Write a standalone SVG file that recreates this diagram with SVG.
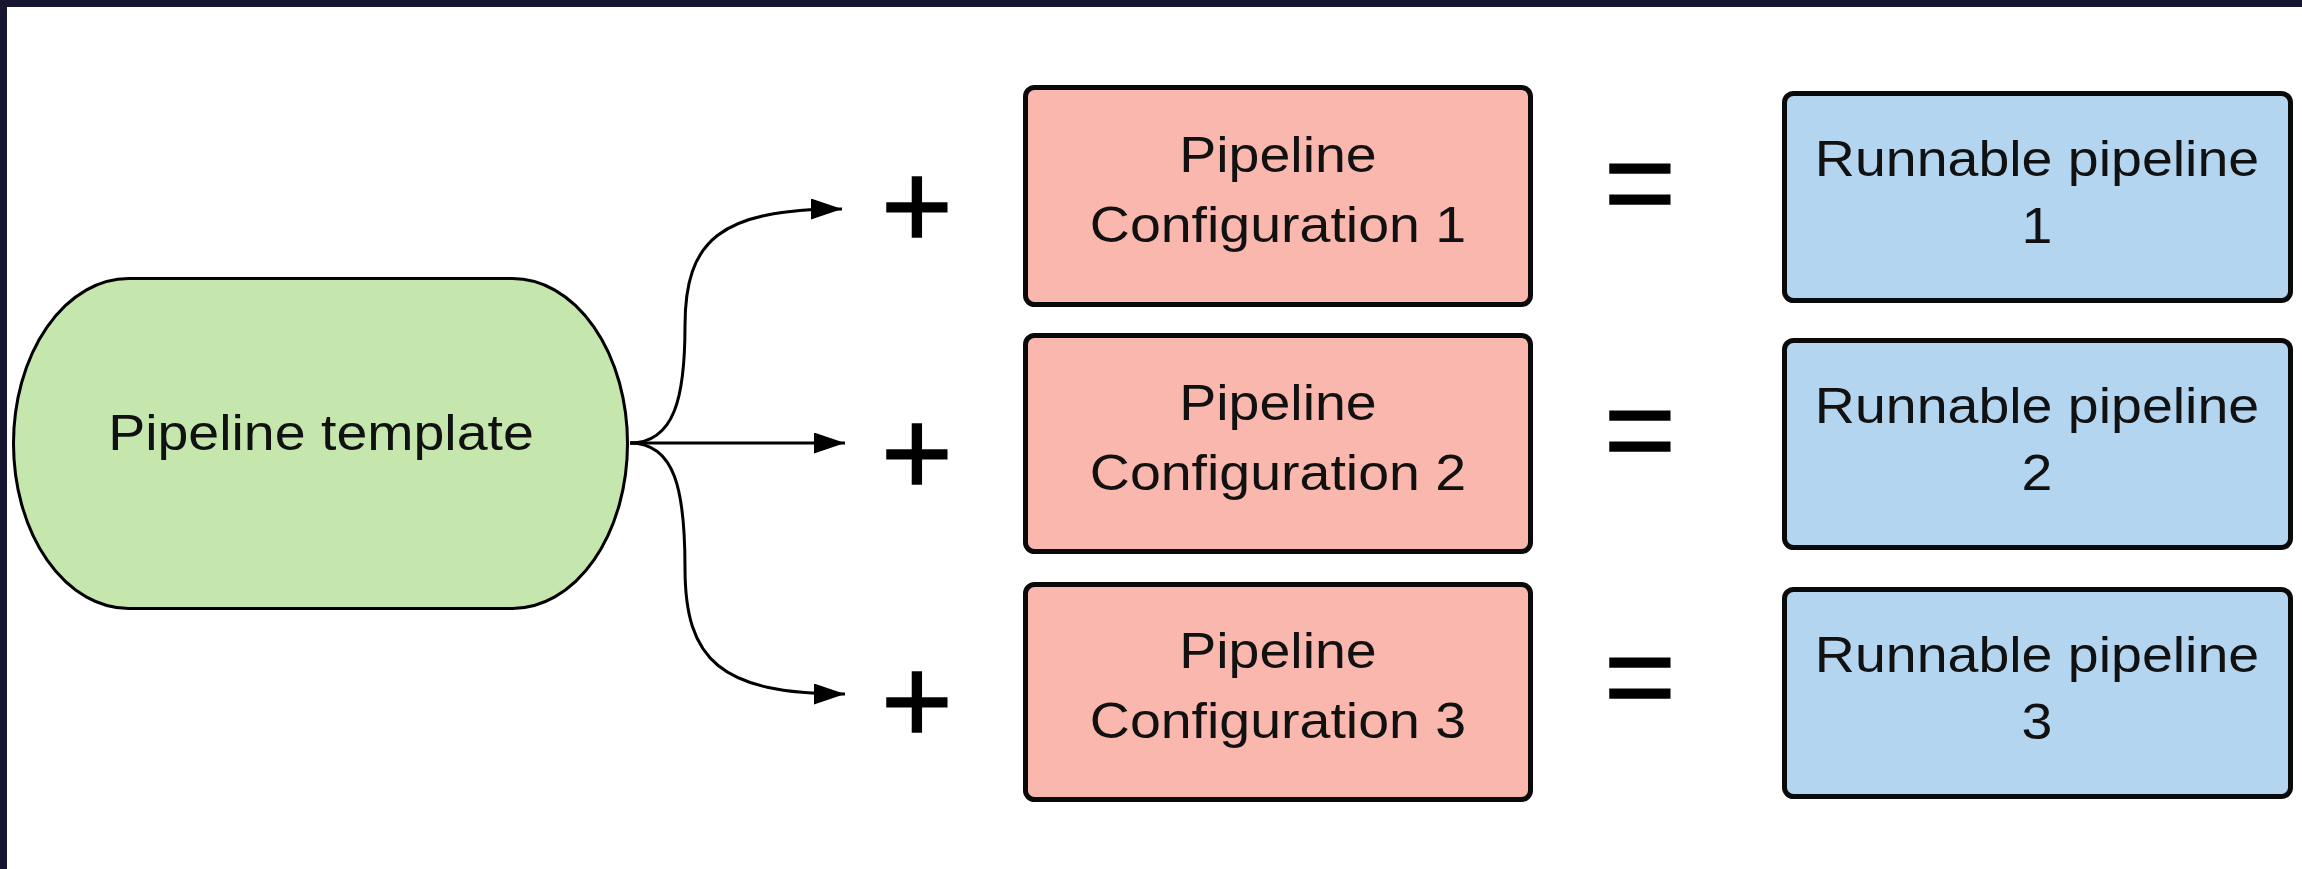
<svg xmlns="http://www.w3.org/2000/svg" width="2302" height="869" viewBox="0 0 2302 869">
<style>
.lbl{font-family:"Liberation Sans",Arial,sans-serif;font-size:50px;fill:#111;text-anchor:middle}
.sym{font-family:"Liberation Sans",Arial,sans-serif;font-size:123px;fill:#000;stroke:#000;stroke-width:1.5;text-anchor:middle}
.cfg{fill:#fab7ae;stroke:#0a0a0a;stroke-width:5}
.run{fill:#b3d5ef;stroke:#0a0a0a;stroke-width:5}
.conn{fill:none;stroke:#000;stroke-width:3}
</style>
<defs>
<marker id="ah" markerUnits="userSpaceOnUse" markerWidth="31" markerHeight="21" refX="31" refY="10.5" orient="auto">
<path d="M0,0 L31,10.5 L0,21 z" fill="#000"/>
</marker>
</defs>
<rect x="0" y="0" width="2302" height="869" fill="#fff"/>
<rect x="0" y="0" width="2302" height="7" fill="#171631"/>
<rect x="0" y="0" width="7" height="869" fill="#171631"/>

<g id="connectors">
<path class="conn" marker-end="url(#ah)" d="M630,443 C675,443 685,396 685,326 C685,240 720,209 842,209"/>
<path class="conn" marker-end="url(#ah)" d="M630,443 L845,443"/>
<path class="conn" marker-end="url(#ah)" d="M630,443 C675,443 685,490 685,568 C685,660 720,694 845,694"/>
</g>

<g id="template">
<rect x="13.5" y="278.5" width="614" height="330" rx="115" ry="165" fill="#c5e6ad" stroke="#000" stroke-width="3"/>
<text class="lbl" transform="translate(321 0) scale(1.11 1)" x="0" y="450">Pipeline template</text>
</g>

<g id="plus1"><text class="sym" x="917" y="248">+</text></g>
<g id="plus2"><text class="sym" x="917" y="495">+</text></g>
<g id="plus3"><text class="sym" x="917" y="743">+</text></g>

<g id="config1">
<rect class="cfg" x="1025.5" y="87.5" width="505" height="217" rx="9"/>
<text class="lbl" transform="translate(1278 0) scale(1.11 1)"><tspan x="0" y="172">Pipeline</tspan><tspan x="0" y="242">Configuration 1</tspan></text>
</g>
<g id="config2">
<rect class="cfg" x="1025.5" y="335.5" width="505" height="216" rx="9"/>
<text class="lbl" transform="translate(1278 0) scale(1.11 1)"><tspan x="0" y="420">Pipeline</tspan><tspan x="0" y="490">Configuration 2</tspan></text>
</g>
<g id="config3">
<rect class="cfg" x="1025.5" y="584.5" width="505" height="215" rx="9"/>
<text class="lbl" transform="translate(1278 0) scale(1.11 1)"><tspan x="0" y="668">Pipeline</tspan><tspan x="0" y="738">Configuration 3</tspan></text>
</g>

<g id="eq1"><text class="sym" x="1640" y="225">=</text></g>
<g id="eq2"><text class="sym" x="1640" y="472">=</text></g>
<g id="eq3"><text class="sym" x="1640" y="719">=</text></g>

<g id="run1">
<rect class="run" x="1784.5" y="93.5" width="506" height="207" rx="9"/>
<text class="lbl" transform="translate(2037 0) scale(1.11 1)"><tspan x="0" y="176">Runnable pipeline</tspan><tspan x="0" y="243">1</tspan></text>
</g>
<g id="run2">
<rect class="run" x="1784.5" y="340.5" width="506" height="207" rx="9"/>
<text class="lbl" transform="translate(2037 0) scale(1.11 1)"><tspan x="0" y="423">Runnable pipeline</tspan><tspan x="0" y="490">2</tspan></text>
</g>
<g id="run3">
<rect class="run" x="1784.5" y="589.5" width="506" height="207" rx="9"/>
<text class="lbl" transform="translate(2037 0) scale(1.11 1)"><tspan x="0" y="672">Runnable pipeline</tspan><tspan x="0" y="739">3</tspan></text>
</g>
</svg>
